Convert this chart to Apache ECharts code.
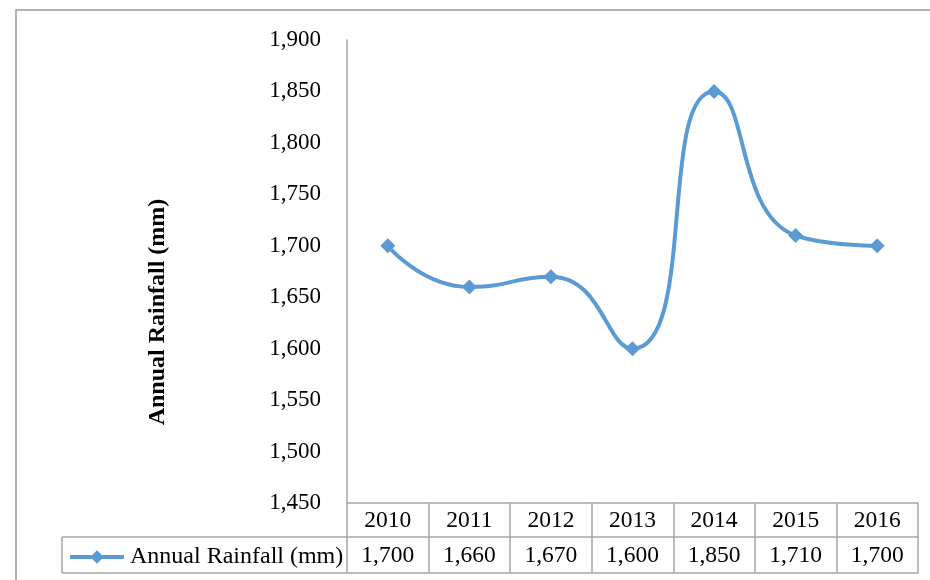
<!DOCTYPE html>
<html>
<head>
<meta charset="utf-8">
<script src="https://cdn.jsdelivr.net/npm/echarts@6/dist/echarts.min.js"></script>
<style>html,body{margin:0;padding:0;background:#fff;}#c{width:930px;height:580px;}</style>
</head>
<body>
<div id="c"></div>
<script>
var years = ['2010','2011','2012','2013','2014','2015','2016'];
var rainfall = [1700, 1660, 1670, 1600, 1850, 1710, 1700];
var seriesName = 'Annual Rainfall (mm)';
var yMin = 1450, yMax = 1900, yStep = 50;

var font = 'Liberation Serif, Times New Roman, serif';
var gridC = '#a6a6a6';
var blue = '#5b9bd5';
function fmt(v){ return Number(v).toLocaleString('en-US'); }

var chart = echarts.init(document.getElementById('c'));
chart.setOption({
  animation: false,
  backgroundColor: '#fff',
  grid: { left: 347, right: 12, top: 40, bottom: 77, containLabel: false },
  legend: {
    data: [{ name: seriesName, lineStyle: { width: 4, color: blue }, itemStyle: { color: blue } }],
    left: 68, top: 545, padding: 0,
    itemWidth: 54, itemHeight: 17, itemGap: 5,
    textStyle: { fontFamily: font, fontSize: 24, color: '#000', padding: [0, 0, 0, 1] }
  },
  xAxis: [
    { type: 'category', data: years, position: 'bottom', boundaryGap: true,
      axisLine: { show: true, lineStyle: { color: gridC, width: 1.5 } },
      axisTick: { show: true, length: 70, alignWithLabel: false, lineStyle: { color: gridC, width: 1.5 } },
      axisLabel: { margin: 6, lineHeight: 23, fontFamily: font, fontSize: 23.5, color: '#000' }
    },
    { type: 'category', data: rainfall.map(fmt), position: 'bottom', offset: 34, boundaryGap: true,
      axisLine: { show: true, lineStyle: { color: gridC, width: 1.5 } },
      axisTick: { show: false },
      axisLabel: { margin: 7, lineHeight: 23, fontFamily: font, fontSize: 23.5, color: '#000' }
    },
    { type: 'category', data: years, position: 'bottom', offset: 70, boundaryGap: true,
      axisLine: { show: true, lineStyle: { color: gridC, width: 1.5 } },
      axisTick: { show: false },
      axisLabel: { show: false }
    }
  ],
  yAxis: {
    type: 'value', min: yMin, max: yMax, interval: yStep,
    axisLine: { show: true, lineStyle: { color: gridC, width: 1.5 } },
    axisTick: { show: false },
    splitLine: { show: false },
    axisLabel: { margin: 26, fontFamily: font, fontSize: 23, color: '#000', formatter: function(v){ return fmt(v); } }
  },
  graphic: [
    { type: 'rect', shape: { x: 16, y: 10, width: 930, height: 590 }, style: { fill: 'none', stroke: '#9a9a9a', lineWidth: 1.5 }, silent: true, z: -1 },
    { type: 'line', shape: { x1: 62, y1: 537, x2: 347, y2: 537 }, style: { stroke: gridC, lineWidth: 1.5 } },
    { type: 'line', shape: { x1: 62, y1: 573, x2: 347, y2: 573 }, style: { stroke: gridC, lineWidth: 1.5 } },
    { type: 'line', shape: { x1: 62, y1: 537, x2: 62, y2: 573 }, style: { stroke: gridC, lineWidth: 1.5 } },
    { type: 'text', x: 158, y: 312, rotation: Math.PI / 2,
      style: { text: seriesName, fontFamily: font, fontSize: 24, fontWeight: 'bold', fill: '#000', align: 'center', verticalAlign: 'middle' } }
  ],
  series: [{
    name: seriesName, type: 'line', data: rainfall, xAxisIndex: 0,
    smooth: 0.55,
    symbol: 'diamond', symbolSize: 15,
    lineStyle: { color: blue, width: 4 },
    itemStyle: { color: blue }
  }]
});
</script>
</body>
</html>
